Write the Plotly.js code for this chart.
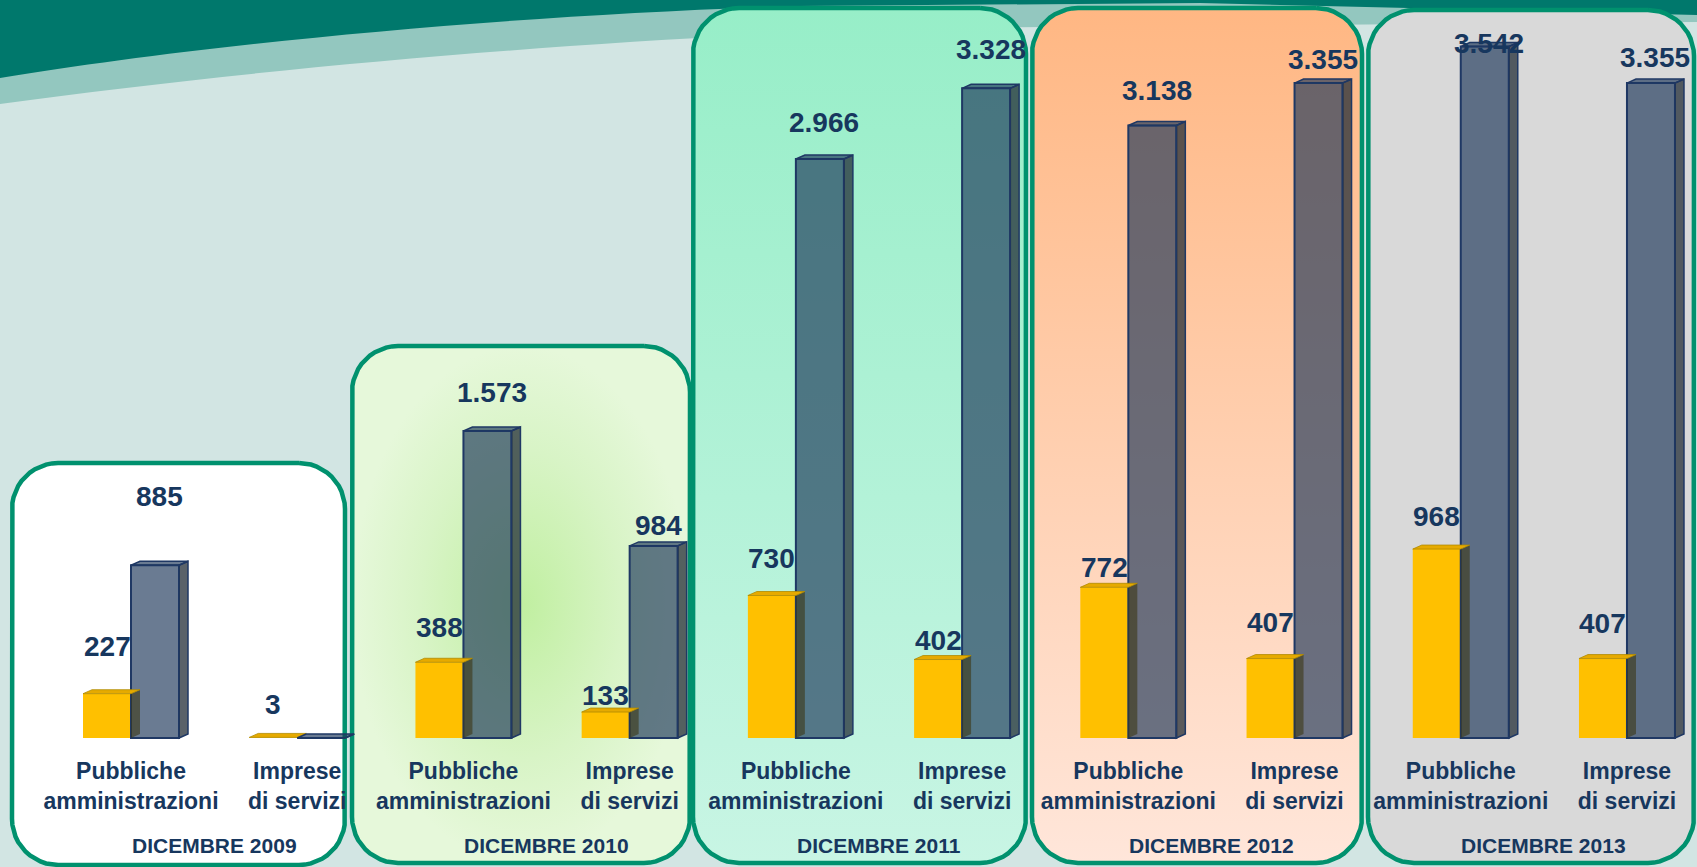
<!DOCTYPE html>
<html>
<head>
<meta charset="utf-8">
<script src="https://cdn.plot.ly/plotly-3.0.1.min.js"></script>
<style>
html,body{margin:0;padding:0;background:#d2e5e3;overflow:hidden;}
#chart{width:1697px;height:867px;}
</style>
</head>
<body>
<div id="chart"></div>
<script>
// ---------------- DATA ----------------
const periods = ['DICEMBRE 2009', 'DICEMBRE 2010', 'DICEMBRE 2011', 'DICEMBRE 2012', 'DICEMBRE 2013'];
const sectors = ['Pubbliche<br>amministrazioni', 'Imprese<br>di servizi'];
// one value per (period, sector), in order 2009-PA, 2009-IS, 2010-PA, ...
const yellowValues = [227, 3, 388, 133, 730, 402, 772, 407, 968, 407];
const blueValues   = [885, 0, 1573, 984, 2966, 3328, 3138, 3355, 3542, 3355];

// ---------------- STYLE / GEOMETRY ----------------
const yellowLabelGap = [37, 22, 24, 6, 27, 9, 9, 26, 22, 25];   // px above bar
const blueLabelGap   = [58, 0, 28, 10, 26, 28, 24, 13, -7, 15];
const W = 1697, H = 867, BASE = 738, PXU = 0.1952, X0 = 131, STEP = 166.22;
const BW = 48 / STEP, DX = 9 / STEP, DY = 4 / PXU;
const NAVY = '#17375E';
const FONT = 'Liberation Sans, Arial, sans-serif';

const categories = [];
const ticktext = [];
periods.forEach(p => sectors.forEach(s => { categories.push(p + ' | ' + s); ticktext.push(s); }));
const xIdx = categories.map((c, i) => i);

const px2x = px => (px - X0) / STEP;
const py2y = py => (BASE - py) / PXU;
const pp = (x, y) => (x / W) + ',' + (1 - y / H);
const XR = [-X0 / STEP, (W - X0) / STEP];
const YR = [-(H - BASE) / PXU, BASE / PXU];

// panels (px boxes) and fills
const panelBoxes = [[12, 463, 345, 865], [352, 346, 690, 863], [693, 8, 1026, 863], [1032, 8, 1362, 863], [1368, 10, 1694, 863]];
const panelFills = [
  {type: 'none', color: '#ffffff'},
  {type: 'radial', scale: [[0, '#c0efa0'], [0.6, '#d8f4c6'], [1, '#e6f8da']], color: '#dcf5cc'},
  {type: 'vertical', scale: [[0, '#c8f5e4'], [1, '#97eec8']], color: '#b0f2d6'},
  {type: 'vertical', scale: [[0, '#ffe6da'], [1, '#ffb783']], color: '#ffcfb0'},
  {type: 'none', color: '#d9d9d9'}
];

function roundRect(x0, y0, x1, y1, r) {
  const pts = [];
  const n = 12;
  const corners = [
    [x1 - r, y0 + r, -Math.PI / 2, 0],
    [x1 - r, y1 - r, 0, Math.PI / 2],
    [x0 + r, y1 - r, Math.PI / 2, Math.PI],
    [x0 + r, y0 + r, Math.PI, 1.5 * Math.PI]
  ];
  corners.forEach(([cx, cy, a0, a1]) => {
    for (let k = 0; k <= n; k++) {
      const a = a0 + (a1 - a0) * k / n;
      pts.push([cx + r * Math.cos(a), cy + r * Math.sin(a)]);
    }
  });
  pts.push(pts[0]);
  return pts;
}

const traces = [];
// background panels on the base subplot (x / y)
panelBoxes.forEach((b, k) => {
  const pts = roundRect(b[0], b[1], b[2], b[3], 46);
  const f = panelFills[k];
  const t = {
    type: 'scatter', mode: 'lines', xaxis: 'x', yaxis: 'y',
    x: pts.map(p => px2x(p[0])), y: pts.map(p => py2y(p[1])),
    fill: 'toself', fillcolor: f.color,
    line: {color: '#00916e', width: 4.5},
    hoverinfo: 'skip', showlegend: false
  };
  if (f.type !== 'none') t.fillgradient = {type: f.type, colorscale: f.scale};
  traces.push(t);
});

// bars on the overlaying subplot (x2 / y2), same scales
traces.push({
  type: 'bar', name: 'serie 1', x: xIdx, y: yellowValues, xaxis: 'x2', yaxis: 'y2',
  offset: -BW, width: BW,
  marker: {color: '#FFC000', line: {width: 0}},
  showlegend: false, hoverinfo: 'y'
});
traces.push({
  type: 'bar', name: 'serie 2', x: xIdx, y: blueValues, xaxis: 'x2', yaxis: 'y2',
  offset: 0, width: BW,
  marker: {color: 'rgba(26,52,88,0.65)', line: {color: '#1F3864', width: 2}},
  showlegend: false, hoverinfo: 'y'
});

// ---------------- SHAPES ----------------
const shapes = [];
// slide background waves
shapes.push({type: 'path', xref: 'paper', yref: 'paper', layer: 'below', line: {width: 0}, fillcolor: '#93c7bf',
  path: `M ${pp(0,104)} C ${pp(250,70)} ${pp(550,42)} ${pp(900,28)} L ${pp(W,22)} L ${pp(W,0)} L ${pp(0,0)} Z`});
shapes.push({type: 'path', xref: 'paper', yref: 'paper', layer: 'below', line: {width: 0}, fillcolor: '#00786c',
  path: `M ${pp(0,78)} C ${pp(200,45)} ${pp(500,15)} ${pp(800,6)} L ${pp(1200,3)} L ${pp(W,15)} L ${pp(W,0)} L ${pp(0,0)} Z`});

const pathOf = arr => 'M ' + arr.map(p => p[0] + ',' + p[1]).join(' L ') + ' Z';
xIdx.forEach(i => {
  // yellow 3D faces
  const v = yellowValues[i];
  let xl = i - BW, xr = i;
  shapes.push({type: 'path', xref: 'x2', yref: 'y2', layer: 'above', line: {width: 0},
    fillcolor: 'rgba(60,55,20,0.6)',
    path: pathOf([[xr, 0], [xr + DX, DY], [xr + DX, v + DY], [xr, v]])});
  shapes.push({type: 'path', xref: 'x2', yref: 'y2', layer: 'above', line: {color: '#b08a00', width: 0.8},
    fillcolor: '#E6AA00',
    path: pathOf([[xl, v], [xl + DX, v + DY], [xr + DX, v + DY], [xr, v]])});
  // blue 3D faces
  const b = blueValues[i];
  xl = i; xr = i + BW;
  shapes.push({type: 'path', xref: 'x2', yref: 'y2', layer: 'above', line: {color: '#1F3864', width: 1.5},
    fillcolor: 'rgba(35,45,55,0.75)',
    path: pathOf([[xr, 0], [xr + DX, DY], [xr + DX, b + DY], [xr, b]])});
  shapes.push({type: 'path', xref: 'x2', yref: 'y2', layer: 'above', line: {color: '#1F3864', width: 1.5},
    fillcolor: 'rgba(26,52,88,0.65)',
    path: pathOf([[xl, b], [xl + DX, b + DY], [xr + DX, b + DY], [xr, b]])});
});

// ---------------- ANNOTATIONS ----------------
const fmt = v => String(v).replace(/\B(?=(\d{3})+(?!\d))/g, '.');
const annotations = [];
xIdx.forEach(i => {
  const v = yellowValues[i];
  if (v > 0) annotations.push({x: i - BW / 2, y: v, xref: 'x2', yref: 'y2', yanchor: 'bottom', xanchor: 'center',
    yshift: yellowLabelGap[i] - 7, text: fmt(v), showarrow: false,
    font: {family: FONT, size: 28, weight: 'bold', color: NAVY}});
  const b = blueValues[i];
  if (b > 0) annotations.push({x: i + (BW + DX) / 2, y: b, xref: 'x2', yref: 'y2', yanchor: 'bottom', xanchor: 'center',
    yshift: blueLabelGap[i] - 7, text: fmt(b), showarrow: false,
    font: {family: FONT, size: 28, weight: 'bold', color: NAVY}});
});
periods.forEach((p, k) => {
  annotations.push({x: 2 * k + 0.5, xref: 'x', y: 1 - 859 / H, yref: 'paper', yanchor: 'bottom', xanchor: 'center',
    text: p, showarrow: false, font: {family: FONT, size: 21, weight: 'bold', color: NAVY}});
});

const layout = {
  width: W, height: H,
  margin: {l: 0, r: 0, t: 0, b: 0, pad: 0},
  paper_bgcolor: '#d2e5e3',
  plot_bgcolor: 'rgba(0,0,0,0)',
  barmode: 'overlay',
  showlegend: false,
  xaxis: {
    type: 'linear', range: XR,
    tickmode: 'array', tickvals: xIdx, ticktext: ticktext,
    tickfont: {family: FONT, size: 23, weight: 'bold', color: NAVY},
    ticks: '', ticklabelstandoff: 17,
    showgrid: false, zeroline: false, showline: false,
    anchor: 'free', position: (H - BASE) / H, fixedrange: true
  },
  yaxis: {
    range: YR, visible: false, showgrid: false, zeroline: false, fixedrange: true
  },
  xaxis2: {
    type: 'linear', range: XR, overlaying: 'x', anchor: 'y2',
    visible: false, showgrid: false, zeroline: false, fixedrange: true
  },
  yaxis2: {
    range: YR, overlaying: 'y', anchor: 'x2',
    visible: false, showgrid: false, zeroline: false, fixedrange: true
  },
  shapes: shapes,
  annotations: annotations
};

Plotly.newPlot('chart', traces, layout, {displayModeBar: false, staticPlot: true});
</script>
</body>
</html>
